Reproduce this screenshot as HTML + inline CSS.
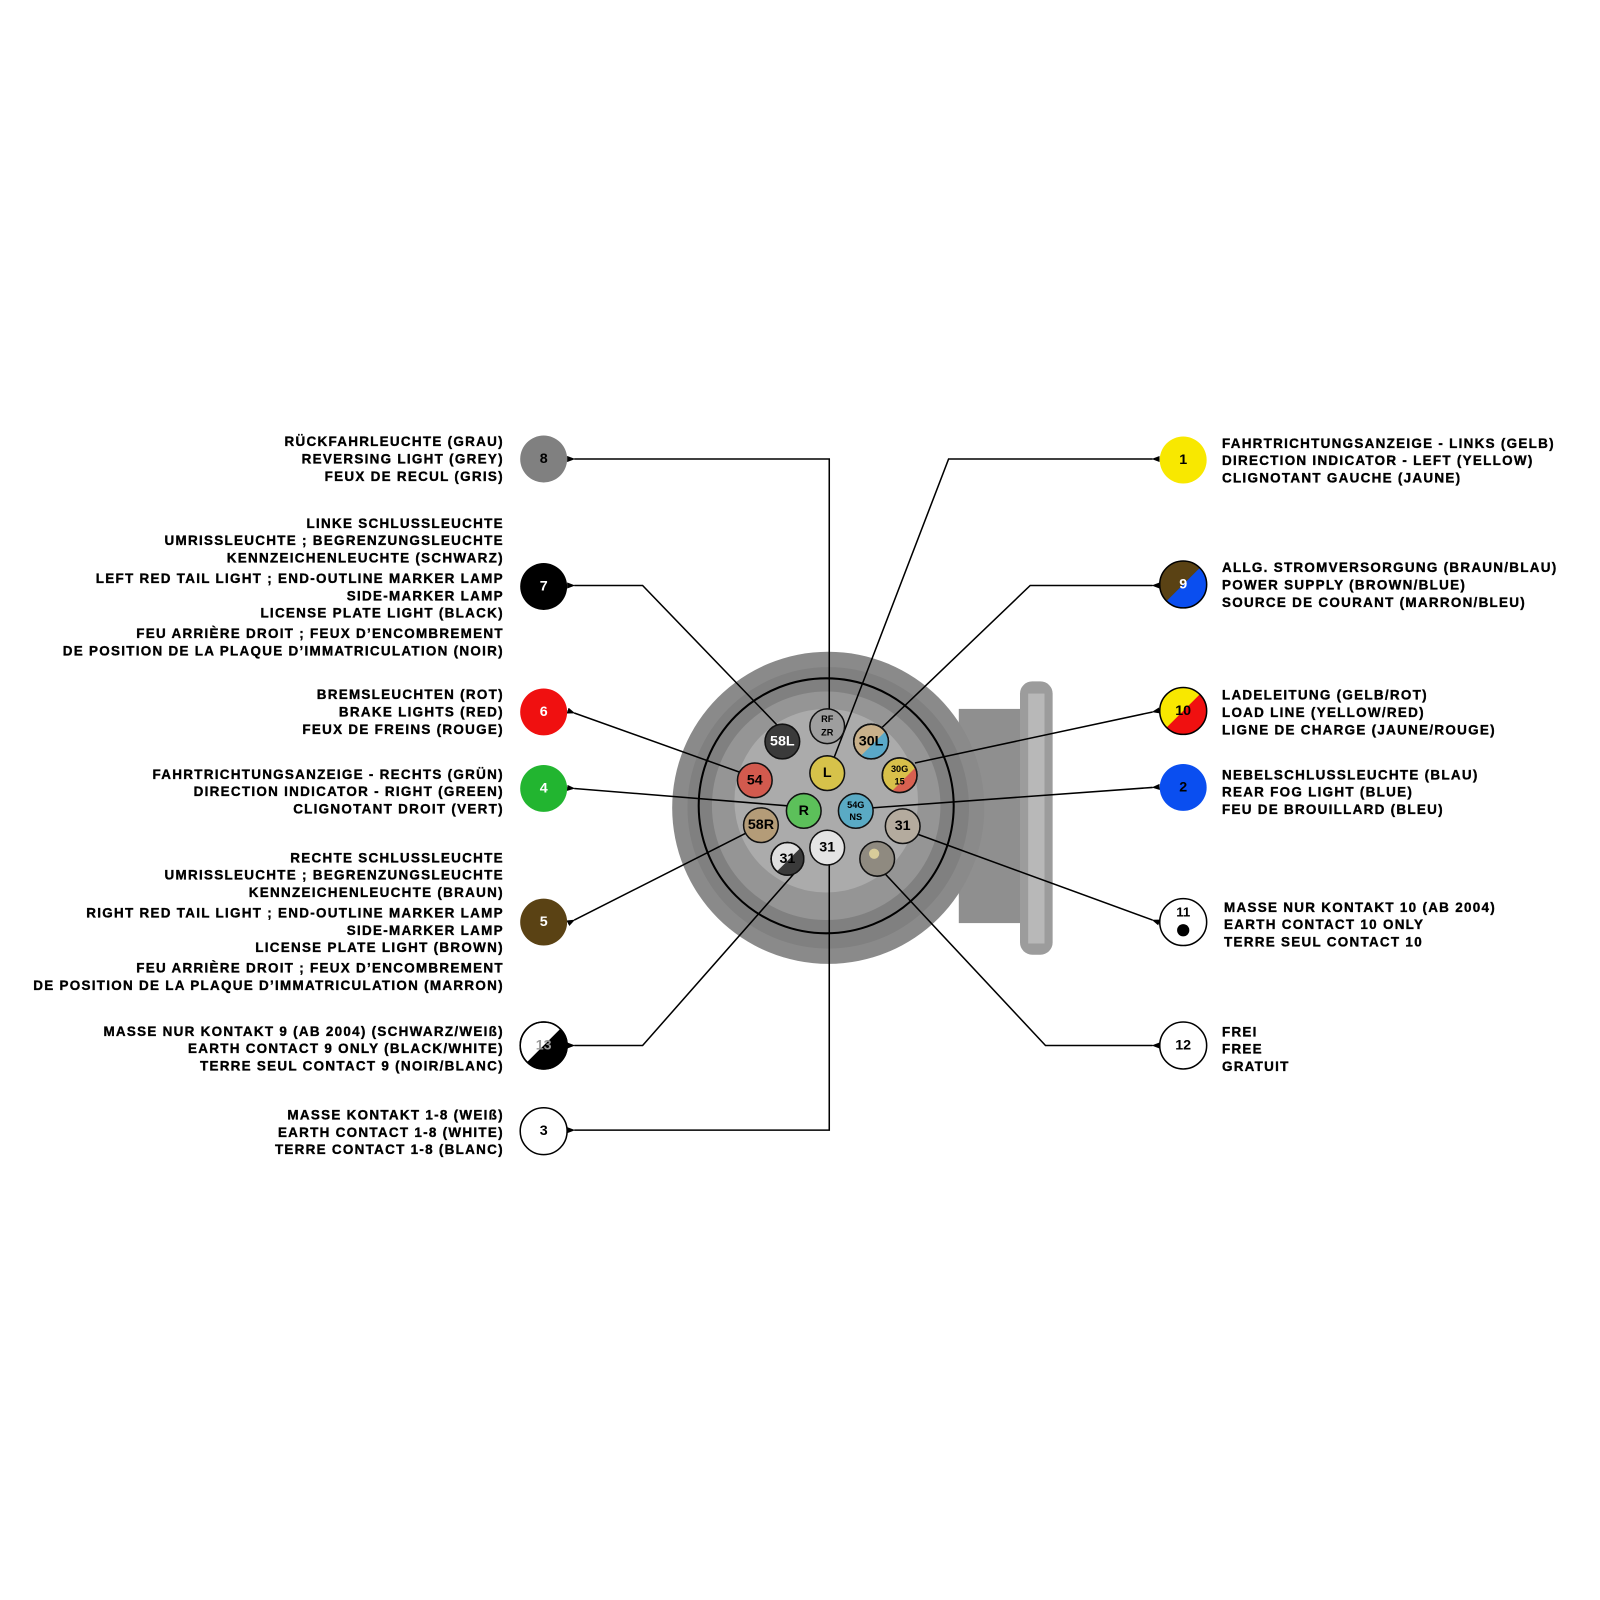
<!DOCTYPE html>
<html><head><meta charset="utf-8">
<style>
html,body{margin:0;padding:0;background:#fff;}
svg{display:block;}
.t{font-family:"Liberation Sans",Arial,sans-serif;font-weight:bold;font-size:13.2px;fill:#000;stroke:#000;stroke-width:0.35px;letter-spacing:1.25px;}
.l{text-anchor:end;}
.pn{font-family:"Liberation Sans",Arial,sans-serif;font-weight:bold;text-anchor:middle;dominant-baseline:central;}
</style></head>
<body>
<svg width="1600" height="1600" viewBox="0 0 1600 1600" xmlns="http://www.w3.org/2000/svg">
<defs>
<marker id="a" markerWidth="8" markerHeight="6" refX="1" refY="3" orient="auto" markerUnits="userSpaceOnUse">
<path d="M8,0 L0,3 L8,6 Z" fill="#000"/>
</marker>
<clipPath id="c9"><circle cx="1160" cy="573" r="23"/></clipPath>
<clipPath id="c10"><circle cx="1160" cy="697" r="23"/></clipPath>
<clipPath id="c13"><circle cx="533" cy="1025" r="23"/></clipPath>
<clipPath id="p31"><circle cx="772" cy="842" r="16"/></clipPath>
<clipPath id="p30g"><circle cx="882" cy="760" r="17"/></clipPath>
<clipPath id="p30l"><circle cx="854" cy="727" r="17"/></clipPath>
</defs>
<g transform="scale(1.02)">
<!-- connector body -->
<rect x="940" y="695" width="75" height="210" fill="#8f8f8f"/>
<rect x="1000" y="668" width="32" height="268" rx="12" fill="#9c9c9c"/>
<rect x="1008" y="680" width="16" height="245" fill="#b8b8b8"/>
<circle cx="812" cy="792" r="153" fill="#8a8a8a"/>
<circle cx="812" cy="792" r="138" fill="#808080"/>
<circle cx="810" cy="790" r="112" fill="#959595"/>
<circle cx="810" cy="785" r="90" fill="#ababab"/>
<circle cx="810" cy="790" r="125" fill="none" stroke="#000" stroke-width="2"/>

<!-- connector lines -->
<g stroke="#000" stroke-width="1.5" fill="none">
<polyline points="813,695 813,450 563,450" marker-end="url(#a)"/>
<polyline points="762,711 630,574 563,574" marker-end="url(#a)"/>
<polyline points="725,757 563,699" marker-end="url(#a)"/>
<polyline points="772,790 563,773" marker-end="url(#a)"/>
<polyline points="731,817 563,902" marker-end="url(#a)"/>
<polyline points="778,857 630,1025 563,1025" marker-end="url(#a)"/>
<polyline points="813,848 813,1108 563,1108" marker-end="url(#a)"/>
<polyline points="818,742 930,450 1130,450" marker-end="url(#a)"/>
<polyline points="865,713 1010,574 1130,574" marker-end="url(#a)"/>
<polyline points="897,748 1130,698" marker-end="url(#a)"/>
<polyline points="855,792 1130,772" marker-end="url(#a)"/>
<polyline points="900,818 1130,902" marker-end="url(#a)"/>
<polyline points="868,857 1025,1025 1130,1025" marker-end="url(#a)"/>
</g>

<!-- pins -->
<g stroke="#111" stroke-width="1.5">
<circle cx="811" cy="712" r="17" fill="#9e9e9e"/>
<circle cx="767" cy="727" r="17" fill="#3a3a3a"/>
<circle cx="854" cy="727" r="17" fill="#c8b08a"/>
<circle cx="811" cy="758" r="17" fill="#d6c24a"/>
<circle cx="740" cy="765" r="17" fill="#d25a4e"/>
<circle cx="882" cy="760" r="17" fill="#d8c04a"/>
<circle cx="788" cy="795" r="17" fill="#5cc05a"/>
<circle cx="839" cy="795" r="17" fill="#5aaac4"/>
<circle cx="746" cy="809" r="17" fill="#b49c78"/>
<circle cx="885" cy="810" r="17" fill="#b4ab9e"/>
<circle cx="811" cy="831" r="17" fill="#e4e4e4"/>
<circle cx="772" cy="842" r="16" fill="#e0e0e0"/>
<circle cx="860" cy="842" r="17" fill="#8f8a80"/>
</g>
<polygon points="756,860 790,826 790,860" fill="#3a3a3a" clip-path="url(#p31)"/>
<circle cx="772" cy="842" r="16" fill="none" stroke="#111" stroke-width="1.5"/>
<polygon points="860,790 904,746 904,790" fill="#d86050" clip-path="url(#p30g)"/>
<circle cx="882" cy="760" r="17" fill="none" stroke="#111" stroke-width="1.5"/>
<polygon points="840,745 872,713 872,745" fill="#5aa8c8" clip-path="url(#p30l)"/>
<circle cx="854" cy="727" r="17" fill="none" stroke="#111" stroke-width="1.5"/>
<circle cx="857" cy="837" r="5" fill="#d8cc9a"/>

<g class="pn">
<text x="811" y="705" font-size="9">RF</text>
<text x="811" y="718" font-size="9">ZR</text>
<text x="767" y="727" font-size="14" fill="#fff">58L</text>
<text x="854" y="727" font-size="14">30L</text>
<text x="811" y="758" font-size="14">L</text>
<text x="740" y="765" font-size="14">54</text>
<text x="882" y="754" font-size="9">30G</text>
<text x="882" y="766" font-size="9">15</text>
<text x="788" y="795" font-size="14">R</text>
<text x="839" y="789" font-size="9">54G</text>
<text x="839" y="801" font-size="9">NS</text>
<text x="746" y="809" font-size="14">58R</text>
<text x="885" y="810" font-size="14">31</text>
<text x="811" y="831" font-size="14">31</text>
<text x="772" y="842" font-size="14">31</text>
</g>

<!-- left badges -->
<g stroke="#000" stroke-width="1.5">
<circle cx="533" cy="450" r="23" fill="#808080" stroke="none"/>
<circle cx="533" cy="575" r="23" fill="#000" stroke="none"/>
<circle cx="533" cy="698" r="23" fill="#f01010" stroke="none"/>
<circle cx="533" cy="773" r="23" fill="#22b530" stroke="none"/>
<circle cx="533" cy="904" r="23" fill="#5a4214" stroke="none"/>
<circle cx="533" cy="1025" r="23" fill="#fff"/>
<circle cx="533" cy="1109" r="23" fill="#fff"/>
</g>
<polygon points="505,1053 561,997 561,1053" fill="#000" clip-path="url(#c13)"/>
<circle cx="533" cy="1025" r="23" fill="none" stroke="#000" stroke-width="1.5"/>
<g class="pn" font-size="14">
<text x="533" y="450" fill="#000">8</text>
<text x="533" y="575" fill="#fff">7</text>
<text x="533" y="698" fill="#fff">6</text>
<text x="533" y="773" fill="#fff">4</text>
<text x="533" y="904" fill="#fff">5</text>
<text x="533" y="1025" fill="#999">13</text>
<text x="533" y="1109" fill="#000">3</text>
</g>

<!-- right badges -->
<circle cx="1160" cy="451" r="23" fill="#f8e800"/>
<circle cx="1160" cy="573" r="23" fill="#5a4214"/>
<polygon points="1130,603 1190,543 1190,603" fill="#0a4ef0" clip-path="url(#c9)"/>
<circle cx="1160" cy="573" r="23" fill="none" stroke="#000" stroke-width="1.5"/>
<circle cx="1160" cy="697" r="23" fill="#f8e800"/>
<polygon points="1130,727 1190,667 1190,727" fill="#f01010" clip-path="url(#c10)"/>
<circle cx="1160" cy="697" r="23" fill="none" stroke="#000" stroke-width="1.5"/>
<circle cx="1160" cy="772" r="23" fill="#0a4ef0"/>
<circle cx="1160" cy="904" r="23" fill="#fff" stroke="#000" stroke-width="1.5"/>
<circle cx="1160" cy="912" r="6" fill="#000"/>
<circle cx="1160" cy="1025" r="23" fill="#fff" stroke="#000" stroke-width="1.5"/>
<g class="pn" font-size="14">
<text x="1160" y="451">1</text>
<text x="1160" y="573" fill="#fff">9</text>
<text x="1160" y="697">10</text>
<text x="1160" y="772">2</text>
<text x="1160" y="894" font-size="13">11</text>
<text x="1160" y="1025">12</text>
</g>

<!-- left texts -->
<g class="t l" transform="translate(0,-9.5)">
<text x="494" y="447">RÜCKFAHRLEUCHTE (GRAU)</text>
<text x="494" y="464">REVERSING LIGHT (GREY)</text>
<text x="494" y="481">FEUX DE RECUL (GRIS)</text>

<text x="494" y="527">LINKE SCHLUSSLEUCHTE</text>
<text x="494" y="544">UMRISSLEUCHTE ; BEGRENZUNGSLEUCHTE</text>
<text x="494" y="561">KENNZEICHENLEUCHTE (SCHWARZ)</text>
<text x="494" y="581">LEFT RED TAIL LIGHT ; END-OUTLINE MARKER LAMP</text>
<text x="494" y="598">SIDE-MARKER LAMP</text>
<text x="494" y="615">LICENSE PLATE LIGHT (BLACK)</text>
<text x="494" y="635">FEU ARRIÈRE DROIT ; FEUX D’ENCOMBREMENT</text>
<text x="494" y="652">DE POSITION DE LA PLAQUE D’IMMATRICULATION (NOIR)</text>

<text x="494" y="695">BREMSLEUCHTEN (ROT)</text>
<text x="494" y="712">BRAKE LIGHTS (RED)</text>
<text x="494" y="729">FEUX DE FREINS (ROUGE)</text>

<text x="494" y="773">FAHRTRICHTUNGSANZEIGE - RECHTS (GRÜN)</text>
<text x="494" y="790">DIRECTION INDICATOR - RIGHT (GREEN)</text>
<text x="494" y="807">CLIGNOTANT DROIT (VERT)</text>

<text x="494" y="855">RECHTE SCHLUSSLEUCHTE</text>
<text x="494" y="872">UMRISSLEUCHTE ; BEGRENZUNGSLEUCHTE</text>
<text x="494" y="889">KENNZEICHENLEUCHTE (BRAUN)</text>
<text x="494" y="909">RIGHT RED TAIL LIGHT ; END-OUTLINE MARKER LAMP</text>
<text x="494" y="926">SIDE-MARKER LAMP</text>
<text x="494" y="943">LICENSE PLATE LIGHT (BROWN)</text>
<text x="494" y="963">FEU ARRIÈRE DROIT ; FEUX D’ENCOMBREMENT</text>
<text x="494" y="980">DE POSITION DE LA PLAQUE D’IMMATRICULATION (MARRON)</text>

<text x="494" y="1025">MASSE NUR KONTAKT 9 (AB 2004) (SCHWARZ/WEIß)</text>
<text x="494" y="1042">EARTH CONTACT 9 ONLY (BLACK/WHITE)</text>
<text x="494" y="1059">TERRE SEUL CONTACT 9 (NOIR/BLANC)</text>

<text x="494" y="1107">MASSE KONTAKT 1-8 (WEIß)</text>
<text x="494" y="1124">EARTH CONTACT 1-8 (WHITE)</text>
<text x="494" y="1141">TERRE CONTACT 1-8 (BLANC)</text>
</g>

<!-- right texts -->
<g class="t" transform="translate(0,-9)">
<text x="1198" y="448">FAHRTRICHTUNGSANZEIGE - LINKS (GELB)</text>
<text x="1198" y="465">DIRECTION INDICATOR - LEFT (YELLOW)</text>
<text x="1198" y="482">CLIGNOTANT GAUCHE (JAUNE)</text>

<text x="1198" y="570">ALLG. STROMVERSORGUNG (BRAUN/BLAU)</text>
<text x="1198" y="587">POWER SUPPLY (BROWN/BLUE)</text>
<text x="1198" y="604">SOURCE DE COURANT (MARRON/BLEU)</text>

<text x="1198" y="695">LADELEITUNG (GELB/ROT)</text>
<text x="1198" y="712">LOAD LINE (YELLOW/RED)</text>
<text x="1198" y="729">LIGNE DE CHARGE (JAUNE/ROUGE)</text>

<text x="1198" y="773">NEBELSCHLUSSLEUCHTE (BLAU)</text>
<text x="1198" y="790">REAR FOG LIGHT (BLUE)</text>
<text x="1198" y="807">FEU DE BROUILLARD (BLEU)</text>

<text x="1200" y="903">MASSE NUR KONTAKT 10 (AB 2004)</text>
<text x="1200" y="920">EARTH CONTACT 10 ONLY</text>
<text x="1200" y="937">TERRE SEUL CONTACT 10</text>

<text x="1198" y="1025">FREI</text>
<text x="1198" y="1042">FREE</text>
<text x="1198" y="1059">GRATUIT</text>
</g>
</g>
</svg>
</body></html>
